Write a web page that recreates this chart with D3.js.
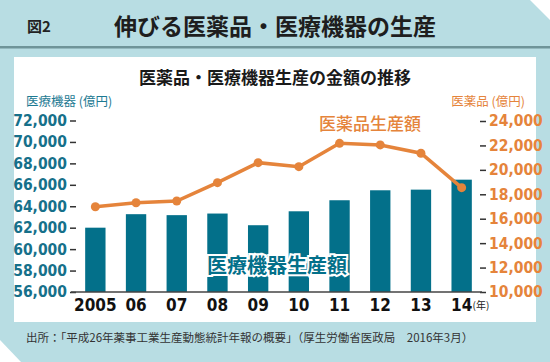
<!DOCTYPE html>
<html>
<head>
<meta charset="utf-8">
<script src="https://cdn.jsdelivr.net/npm/d3@7"></script>
<style>
  body { margin: 0; background: #b8dde3; }
  svg { display: block; }
  .jp { font-family: "Noto Sans CJK JP", sans-serif; }
  .num { font-family: "Liberation Sans Narrow", "DejaVu Sans Condensed", sans-serif; font-weight: bold; }
</style>
</head>
<body>
<script>
// values
var years = ["2005", "06", "07", "08", "09", "10", "11", "12", "13", "14"];
var deviceValues = [62000, 63260, 63170, 63320, 62230, 63530, 64560, 65490, 65550, 66480];   // bars, left axis
var drugValues = [16980, 17310, 17450, 18950, 20590, 20260, 22170, 22040, 21360, 18540];     // line, right axis
var leftTicks = [56000, 58000, 60000, 62000, 64000, 66000, 68000, 70000, 72000];
var rightTicks = [10000, 12000, 14000, 16000, 18000, 20000, 22000, 24000];

var width = 550, height = 362;
var teal = "#03708a", orange = "#e5843b";

var svg = d3.select("body").append("svg")
    .attr("width", width)
    .attr("height", height);

// background pieces
svg.append("rect").attr("width", width).attr("height", height).attr("fill", "#b8dde3");
svg.append("path").attr("d", "M530,0 L550,0 L550,20 Z").attr("fill", "#fff");
svg.append("path").attr("d", "M0,340 L0,362 L21,362 Z").attr("fill", "#fff");
svg.append("rect").attr("x", 0).attr("y", 46).attr("width", width).attr("height", 2.5).attr("fill", "#6f9499");
svg.append("rect").attr("x", 14).attr("y", 57).attr("width", 522).attr("height", 265).attr("fill", "#fff");

// header
svg.append("text").attr("class", "jp")
    .attr("x", 27).attr("y", 32)
    .attr("font-size", 15).attr("font-weight", "bold").attr("fill", "#222")
    .text("図2");
svg.append("text").attr("class", "jp")
    .attr("x", 114).attr("y", 35)
    .attr("font-size", 23).attr("font-weight", "bold").attr("fill", "#1e1e1e")
    .text("伸びる医薬品・医療機器の生産");

// chart title
svg.append("text").attr("class", "jp")
    .attr("x", 275).attr("y", 84)
    .attr("text-anchor", "middle")
    .attr("font-size", 17).attr("font-weight", "bold").attr("fill", "#1a1a1a")
    .text("医薬品・医療機器生産の金額の推移");

// axis titles
svg.append("text").attr("class", "jp")
    .attr("x", 26).attr("y", 106)
    .attr("font-size", 12.5).attr("fill", "#1d7a93")
    .text("医療機器 (億円)");
svg.append("text").attr("class", "jp")
    .attr("x", 525).attr("y", 106)
    .attr("text-anchor", "end")
    .attr("font-size", 12.5).attr("fill", orange)
    .text("医薬品 (億円)");

var x = d3.scaleBand()
    .domain(years)
    .range([75, 482])
    .paddingInner(0.5)
    .paddingOuter(0.25);

var yLeft = d3.scaleLinear().domain([56000, 72000]).range([292, 120.5]);
var yRight = d3.scaleLinear().domain([10000, 24000]).range([292, 121]);

// bars
svg.append("g")
    .selectAll("rect")
    .data(deviceValues)
    .enter().append("rect")
    .attr("x", function(d, i) { return x(years[i]); })
    .attr("y", function(d) { return yLeft(d); })
    .attr("width", x.bandwidth())
    .attr("height", function(d) { return yLeft(56000) - yLeft(d); })
    .attr("fill", teal);

// left axis
var leftAxis = svg.append("g")
    .attr("transform", "translate(76,0)")
    .call(d3.axisLeft(yLeft).tickValues(leftTicks).tickSize(6).tickPadding(3).tickFormat(d3.format(",")));
leftAxis.select(".domain").remove();
leftAxis.selectAll("line").attr("stroke", "#333").attr("stroke-width", 1.5);
leftAxis.selectAll("text").attr("class", "num").attr("font-size", 15.5).attr("fill", "#16708a");

// right axis
var rightAxis = svg.append("g")
    .attr("transform", "translate(480,0)")
    .call(d3.axisRight(yRight).tickValues(rightTicks).tickSize(6).tickPadding(3).tickFormat(d3.format(",")));
rightAxis.select(".domain").remove();
rightAxis.selectAll("line").attr("stroke", "#333").attr("stroke-width", 1.5);
rightAxis.selectAll("text").attr("class", "num").attr("font-size", 15.5).attr("fill", orange);

// baseline
svg.append("line")
    .attr("x1", 71).attr("x2", 482)
    .attr("y1", 292).attr("y2", 292)
    .attr("stroke", "#444").attr("stroke-width", 1.5);

// bottom axis labels
var bottomAxis = svg.append("g")
    .attr("transform", "translate(0,292)")
    .call(d3.axisBottom(x).tickSize(0).tickPadding(7));
bottomAxis.select(".domain").remove();
bottomAxis.selectAll("text").attr("class", "num").attr("font-size", 17).attr("fill", "#111");
svg.append("text").attr("class", "jp")
    .attr("x", 472.5).attr("y", 309)
    .attr("font-size", 10).attr("fill", "#222")
    .text("(年)");

// line
var line = d3.line()
    .x(function(d, i) { return x(years[i]) + x.bandwidth() / 2; })
    .y(function(d) { return yRight(d); });

svg.append("path")
    .datum(drugValues)
    .attr("d", line)
    .attr("fill", "none")
    .attr("stroke", orange)
    .attr("stroke-width", 3.5);

svg.append("g")
    .selectAll("circle")
    .data(drugValues)
    .enter().append("circle")
    .attr("cx", function(d, i) { return x(years[i]) + x.bandwidth() / 2; })
    .attr("cy", function(d) { return yRight(d); })
    .attr("r", 4.5)
    .attr("fill", orange);

// series labels
svg.append("text").attr("class", "jp")
    .attr("x", 277).attr("y", 273)
    .attr("text-anchor", "middle")
    .attr("font-size", 20).attr("font-weight", "bold")
    .attr("fill", teal)
    .attr("stroke", "#fff").attr("stroke-width", 4).attr("paint-order", "stroke")
    .text("医療機器生産額");
svg.append("text").attr("class", "jp")
    .attr("x", 370).attr("y", 130)
    .attr("text-anchor", "middle")
    .attr("font-size", 17).attr("font-weight", 500)
    .attr("fill", orange)
    .text("医薬品生産額");

// source
svg.append("text").attr("class", "jp")
    .attr("x", 26).attr("y", 342)
    .attr("font-size", 11.5).attr("fill", "#333")
    .text("出所：「平成26年薬事工業生産動態統計年報の概要」（厚生労働省医政局　2016年3月）");
</script>
</body>
</html>
